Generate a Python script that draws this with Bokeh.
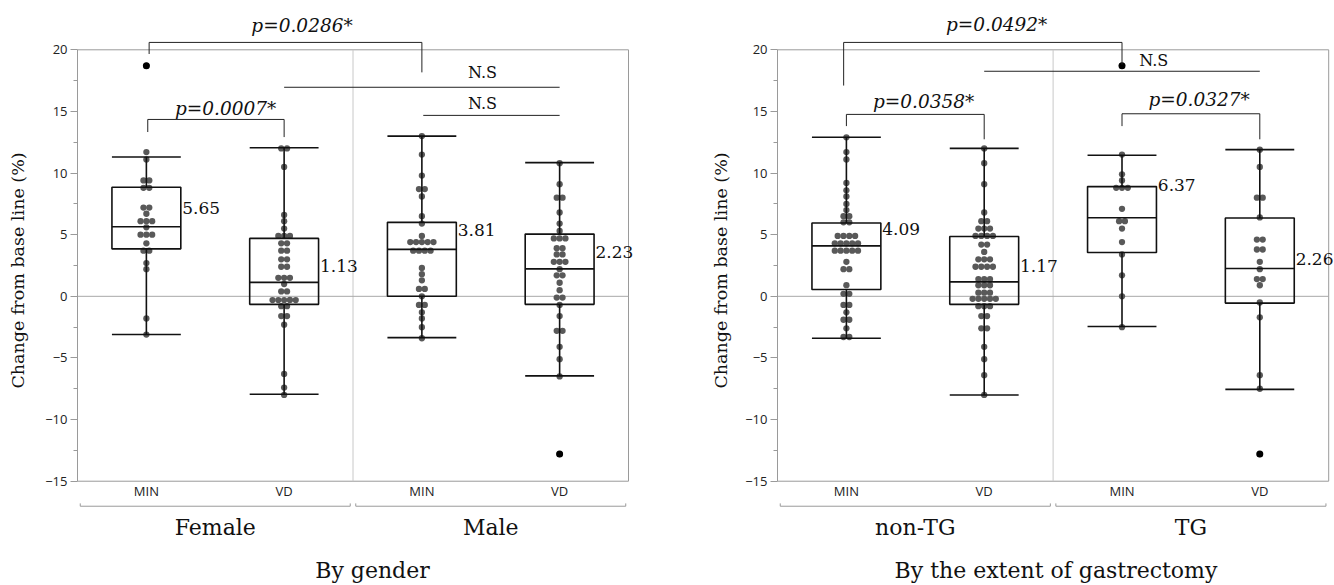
from collections import Counter
from bokeh.plotting import figure
from bokeh.layouts import row
from bokeh.models import FixedTicker, Range1d
from bokeh.core.properties import value
from bokeh.embed import file_html
from bokeh.resources import INLINE

# ---------------- data ----------------
sub_labels = ["MIN", "VD", "MIN", "VD"]

gender_groups = ["Female", "Male"]
gender_title = "By gender"
female_min = [18.7, 11.7, 11.1, 9.4, 9.4, 8.8, 8.8, 7.2, 7.2, 6.7, 6.1, 6.1, 6.1, 5.6,
              5.0, 5.0, 5.0, 4.3, 3.7, 3.7, 2.7, 2.2, -1.8, -3.1]
female_vd = [12.0, 12.0, 10.5, 6.6, 6.1, 5.5, 4.9, 4.9, 4.9, 4.3, 4.3, 3.7, 3.7, 3.0, 3.0,
             2.4, 2.4, 1.5, 1.5, 1.5, 1.0, 0.4, 0.4, -0.3, -0.3, -0.3, -0.3, -0.3, -0.8,
             -0.8, -1.6, -1.6, -2.3, -6.3, -7.4, -8.0]
male_min = [13.0, 11.5, 9.8, 8.7, 8.7, 8.1, 6.5, 5.9, 4.9, 4.4, 4.4, 4.4, 4.4, 4.4, 3.7,
            3.7, 3.7, 3.7, 2.3, 1.8, 1.3, 0.6, 0.6, 0.0, -0.7, -0.7, -1.3, -1.8, -2.5, -3.4]
male_vd = [10.8, 9.1, 8.0, 8.0, 6.8, 5.9, 5.3, 4.7, 4.7, 4.7, 3.9, 3.9, 3.4, 3.4, 2.8, 2.8,
           2.8, 2.2, 1.7, 1.7, 1.1, 0.5, -0.1, -0.1, -0.7, -1.6, -2.8, -2.8, -4.1, -5.1,
           -6.5, -12.8]
gender_lo = [-3.1, -7.95, -3.35, -6.45]
gender_q1 = [3.85, -0.65, 0.0, -0.65]
gender_med = [5.65, 1.13, 3.81, 2.23]
gender_q3 = [8.85, 4.7, 6.0, 5.05]
gender_hi = [11.3, 12.05, 13.0, 10.85]
gender_tests = ["p=0.0286*", "p=0.0007*", "N.S", "N.S"]

extent_groups = ["non-TG", "TG"]
extent_title = "By the extent of gastrectomy"
nontg_min = [12.9, 11.7, 11.1, 9.2, 8.6, 8.1, 7.5, 7.0, 6.5, 6.5, 6.0, 6.0, 4.9, 4.9, 4.9,
             4.9, 4.3, 4.3, 4.3, 4.3, 4.3, 3.7, 3.7, 3.7, 3.7, 3.7, 2.8, 2.2, 2.2, 0.9,
             0.2, 0.2, -0.7, -0.7, -1.3, -1.9, -1.9, -2.6, -3.3, -3.3]
nontg_vd = [12.0, 10.8, 9.1, 6.8, 6.1, 6.1, 5.5, 5.5, 5.5, 4.9, 4.9, 4.9, 4.9, 4.2, 4.2,
            3.6, 3.0, 3.0, 3.0, 2.4, 2.4, 2.4, 2.4, 1.4, 1.4, 1.4, 0.9, 0.9, 0.9, 0.3,
            0.3, 0.3, -0.2, -0.2, -0.2, -0.2, -0.2, -0.8, -0.8, -0.8, -1.6, -1.6, -2.6,
            -2.6, -4.1, -5.1, -6.4, -8.0]
tg_min = [18.7, 11.5, 9.9, 9.4, 8.8, 8.8, 8.8, 7.1, 6.1, 6.1, 5.5, 4.4, 3.4, 1.7, 0.0, -2.5]
tg_vd = [11.9, 10.5, 8.0, 8.0, 6.4, 4.6, 4.6, 3.8, 3.8, 2.8, 2.2, 1.4, 1.4, 0.9, -0.5,
         -1.7, -6.4, -7.5, -12.8]
extent_lo = [-3.4, -8.0, -2.45, -7.55]
extent_q1 = [0.55, -0.65, 3.55, -0.55]
extent_med = [4.09, 1.17, 6.37, 2.26]
extent_q3 = [5.95, 4.85, 8.9, 6.35]
extent_hi = [12.9, 12.0, 11.45, 11.9]
extent_tests = ["p=0.0492*", "p=0.0358*", "p=0.0327*", "N.S"]

# ---------------- layout (positions of annotations, in data units) ----------------
centers = [0.5, 1.5, 2.5, 3.5]
gender_test_layout = dict(x1=[0.52, 0.51, 1.5, 2.51], x2=[2.5, 1.5, 3.5, 3.5],
                          y=[20.6, 14.35, 16.96, 14.68], d1=[19.66, 13.33, 16.96, 14.68],
                          d2=[18.17, 12.92, 16.96, 14.68], tx=[1.63, 1.075, 2.94, 2.94],
                          ty=[21.96, 15.22, 18.17, 15.62])
extent_test_layout = dict(x1=[0.48, 0.5, 2.5, 1.5], x2=[2.5, 1.5, 3.5, 3.5],
                          y=[20.6, 14.76, 14.81, 18.26], d1=[17.1, 13.81, 13.81, 18.26],
                          d2=[18.8, 12.74, 12.74, 18.26], tx=[1.59, 1.06, 3.06, 2.73],
                          ty=[22.03, 15.83, 15.97, 19.15])
gender_label_dy = [1.5, 1.3, 1.6, 1.4]
extent_label_dy = [1.4, 1.3, 2.7, 0.8]

SERIF = "DejaVu Serif"
SANS = "Open Sans"
GREY = "#9a9a9a"
DOT_SPACING = 5.8 / 137.75


def swarm(vals, center):
    counts = Counter(vals)
    seen = {}
    xs = []
    for v in vals:
        n = counts[v]
        k = seen.get(v, 0)
        seen[v] = k + 1
        xs.append(center + (k - (n - 1) / 2) * DOT_SPACING)
    return xs, list(vals)


def build(title, groups, series, lo, q1, med, q3, hi, tests, lay, label_dy,
          width, frame_left, xend, ylabel_standoff):
    p = figure(width=width, height=585, x_range=Range1d(0, xend),
               y_range=Range1d(-19.81, 24.0), output_backend="svg",
               toolbar_location=None, min_border_left=frame_left, min_border_right=0,
               min_border_top=0, min_border_bottom=43)
    p.xgrid.visible = False
    p.ygrid.visible = False
    p.outline_line_color = None
    p.background_fill_color = "white"
    p.border_fill_color = "white"

    # y axis
    ya = p.yaxis[0]
    ya.ticker = FixedTicker(ticks=list(range(-15, 21, 5)),
                            minor_ticks=[-12.5 + 5 * i for i in range(7)])
    ya.bounds = (-15, 20)
    ya.axis_line_color = GREY
    ya.major_tick_line_color = GREY
    ya.minor_tick_line_color = GREY
    ya.major_tick_in = 0
    ya.major_tick_out = 7
    ya.minor_tick_in = 0
    ya.minor_tick_out = 4
    ya.major_label_standoff = 3
    ya.major_label_text_font = SANS
    ya.major_label_text_font_size = "13px"
    ya.major_label_text_color = "#222222"
    ya.axis_label = "Change from base line (%)"
    ya.axis_label_text_font = SERIF
    ya.axis_label_text_font_size = "17.5px"
    ya.axis_label_text_font_style = "normal"
    ya.axis_label_text_color = "#111111"
    ya.axis_label_standoff = ylabel_standoff

    # x axis: only the title
    xa = p.xaxis[0]
    xa.ticker = FixedTicker(ticks=[])
    xa.axis_line_color = None
    xa.major_tick_line_color = None
    xa.minor_tick_line_color = None
    xa.major_tick_out = 0
    xa.major_label_standoff = 0
    xa.axis_label = title
    xa.axis_label_text_font = SERIF
    xa.axis_label_text_font_size = "22px"
    xa.axis_label_text_font_style = "normal"
    xa.axis_label_text_color = "#111111"
    xa.axis_label_standoff = 17

    # frame box, divider, zero line
    p.quad(left=[0], right=[4], bottom=[-15], top=[20], fill_color=None,
           line_color=GREY, line_width=1)
    p.segment(x0=[2], y0=[-15], x1=[2], y1=[20], line_color="#c8c8c8", line_width=1)
    p.segment(x0=[0], y0=[0], x1=[4], y1=[0], line_color="#a8a8a8", line_width=1)

    # dots
    for c, vals, a, b in zip(centers, series, q1, q3):
        xs, ys = swarm(vals, c)
        p.scatter(xs, ys, size=6.3, fill_color="#595959", line_color=None)
        iqr = b - a
        out = [v for v in vals if v > b + 1.5 * iqr or v < a - 1.5 * iqr]
        if out:
            p.scatter([c] * len(out), out, size=7, fill_color="#000000", line_color=None)

    # boxes and whiskers
    hw = 0.25
    lc = "#111111"
    lw = 1.6
    p.quad(left=[c - hw for c in centers], right=[c + hw for c in centers],
           bottom=q1, top=q3, fill_color=None, line_color=lc, line_width=lw)
    p.segment(x0=[c - hw for c in centers], x1=[c + hw for c in centers],
              y0=med, y1=med, line_color=lc, line_width=lw)
    p.segment(x0=centers, x1=centers, y0=lo, y1=q1, line_color=lc, line_width=lw)
    p.segment(x0=centers, x1=centers, y0=q3, y1=hi, line_color=lc, line_width=lw)
    p.segment(x0=[c - hw for c in centers], x1=[c + hw for c in centers],
              y0=lo, y1=lo, line_color=lc, line_width=lw)
    p.segment(x0=[c - hw for c in centers], x1=[c + hw for c in centers],
              y0=hi, y1=hi, line_color=lc, line_width=lw)

    # median labels
    p.text(x=[c + hw + 0.01 for c in centers], y=[m + d for m, d in zip(med, label_dy)],
           text=[f"{m:.2f}" for m in med], text_font=value(SERIF),
           text_font_size="17px", text_align="left", text_baseline="middle",
           text_color="#111111")

    # significance brackets
    p.segment(x0=lay["x1"], x1=lay["x2"], y0=lay["y"], y1=lay["y"],
              line_color="#222222", line_width=1)
    p.segment(x0=lay["x1"], x1=lay["x1"], y0=lay["y"], y1=lay["d1"],
              line_color="#222222", line_width=1)
    p.segment(x0=lay["x2"], x1=lay["x2"], y0=lay["y"], y1=lay["d2"],
              line_color="#222222", line_width=1)
    for t, tx, ty in zip(tests, lay["tx"], lay["ty"]):
        ns = t.startswith("N")
        p.text(x=[tx], y=[ty], text=[t], text_font=value(SERIF),
               text_font_size="16px" if ns else "18.5px",
               text_font_style="normal" if ns else "italic",
               text_align="center", text_baseline="middle", text_color="#111111")

    # category labels under the boxes
    p.text(x=centers, y=[-15.8] * 4, text=sub_labels, text_font=value(SANS),
           text_font_size="13px", text_align="center", text_baseline="middle",
           text_color="#222222")
    # group brackets
    gx0 = [0.02, 2.02]
    gx1 = [1.98, 3.98]
    p.segment(x0=gx0, x1=gx1, y0=[-17.03] * 2, y1=[-17.03] * 2, line_color=GREY, line_width=1)
    p.segment(x0=gx0 + gx1, x1=gx0 + gx1, y0=[-17.03] * 4, y1=[-16.8] * 4,
              line_color=GREY, line_width=1)
    p.text(x=[1.0, 3.0], y=[-18.75, -18.75], text=groups, text_font=value(SERIF),
           text_font_size="22px", text_align="center", text_baseline="middle",
           text_color="#111111")
    return p


left = build(gender_title, gender_groups, [female_min, female_vd, male_min, male_vd],
             gender_lo, gender_q1, gender_med, gender_q3, gender_hi, gender_tests,
             gender_test_layout, gender_label_dy, 667, 77, 590 / 137.75, 14)
right = build(extent_title, extent_groups, [nontg_min, nontg_vd, tg_min, tg_vd],
              extent_lo, extent_q1, extent_med, extent_q3, extent_hi, extent_tests,
              extent_test_layout, extent_label_dy, 667, 110, 557 / 137.8, 11)

layout = row(left, right)
open("out.html", "w").write(file_html(layout, INLINE))
